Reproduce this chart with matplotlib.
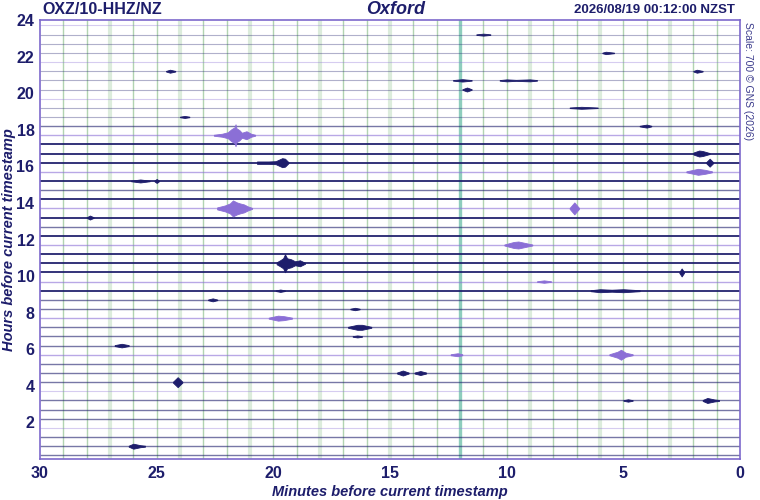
import numpy as np
import matplotlib.pyplot as plt

plt.rcParams['font.family'] = ['Liberation Sans', 'DejaVu Sans']

navy = '#1d1d6b'
purple = '#8b6fd6'
frame = '#7d68cc'

station = 'OXZ/10-HHZ/NZ'
site = 'Oxford'
stamp = '2026/08/19 00:12:00 NZST'
scale_note = 'Scale: 700 \u00a9 GNS (2026)'

# 48 half-hour lines, the bottom one ends at the current timestamp (00:12)
now_minute = 12
n_lines = 48

# background noise of each line, oldest (top) first: 1 quiet .. 3 noisy
noise = [1, 1, 1, 1, 1, 1, 1, 1, 1, 1, 1, 2,
         2, 3, 3, 3, 2, 3, 2, 3, 2, 3, 2, 3,
         2, 3, 3, 3, 2, 3, 2, 2, 2, 2, 2, 2,
         2, 2, 2, 2, 1, 2, 2, 2, 1, 2, 2, 2]

# events: line number (0 = bottom), envelope minutes and half amplitude (pixels of trace)
ev_line = [35, 27, 21, 32, 33, 32, 31, 27, 23, 20,
           15, 14, 11, 11, 9, 9, 8, 1, 6, 6,
           12, 42, 46, 41, 41, 40, 44, 42, 36, 26,
           30, 30, 18, 18, 17, 19, 38, 37, 16, 13]
ev_minutes = [
    [22.55, 22.2, 21.95, 21.8, 21.66, 21.62, 21.58, 21.45, 21.35, 21.15, 20.95, 20.78],
    [22.41, 22.07, 21.86, 21.73, 21.56, 21.43, 21.26, 21.09, 20.91],
    [19.86, 19.71, 19.58, 19.5, 19.41, 19.24, 19.07, 18.86, 18.64],
    [20.7, 20.2, 19.9, 19.62, 19.5, 19.35],
    [2.0, 1.75, 1.6, 1.3],
    [1.45, 1.3, 1.15],
    [2.3, 2.0, 1.8, 1.5, 1.2],
    [7.3, 7.1, 6.9],
    [10.1, 9.7, 9.5, 9.3, 8.9],
    [2.6, 2.5, 2.4],
    [20.2, 19.8, 19.55, 19.2],
    [16.8, 16.4, 16.2, 15.8],
    [5.6, 5.25, 5.1, 4.9, 4.6],
    [12.4, 12.1, 11.9],
    [14.7, 14.45, 14.2],
    [13.95, 13.7, 13.45],
    [24.3, 24.1, 23.9],
    [26.2, 26.0, 25.7, 25.5],
    [1.6, 1.4, 1.1, 0.9],
    [5.0, 4.8, 4.6],
    [26.8, 26.5, 26.2],
    [24.6, 24.43, 24.2],
    [11.3, 11.0, 10.7],
    [12.3, 11.9, 11.5],
    [10.3, 10.0, 9.6, 9.0, 8.7],
    [11.9, 11.7, 11.5],
    [5.9, 5.75, 5.4],
    [2.0, 1.85, 1.6],
    [4.3, 4.0, 3.8],
    [28.0, 27.86, 27.7],
    [26.1, 25.7, 25.3],
    [25.1, 25.0, 24.9],
    [6.4, 6.0, 5.5, 5.0, 4.3],
    [19.9, 19.7, 19.5],
    [22.8, 22.6, 22.4],
    [8.7, 8.4, 8.1],
    [7.3, 6.8, 6.1],
    [24.0, 23.8, 23.6],
    [16.7, 16.5, 16.3],
    [16.6, 16.4, 16.2],
]
ev_amp = [
    [0.5, 1.5, 3, 6, 8, 11, 7, 5, 2.5, 4, 1.5, 0.5],
    [1, 3, 5, 8, 6, 5, 4, 2, 0.5],
    [1, 3, 5, 9, 5, 4, 2, 3, 0.5],
    [1.2, 1.2, 1.5, 4.5, 4, 0.5],
    [1, 3, 2.5, 0.5],
    [0.5, 4, 0.5],
    [0.5, 2, 3, 2, 0.5],
    [0.5, 6, 0.5],
    [0.5, 3, 3.5, 2.5, 0.5],
    [0.5, 4, 0.5],
    [0.5, 2.5, 2, 0.5],
    [0.5, 2.5, 2.5, 0.5],
    [0.5, 3, 5, 2, 0.5],
    [0.5, 1.5, 0.5],
    [0.5, 2.5, 0.5],
    [0.5, 2, 0.5],
    [0.5, 5, 0.5],
    [0.5, 2.5, 1, 0.5],
    [0.5, 2.5, 1, 0.5],
    [0.3, 1.2, 0.3],
    [0.5, 1.8, 0.5],
    [0.3, 1.5, 0.3],
    [0.3, 1.0, 0.3],
    [0.3, 1.2, 0.3],
    [0.3, 1.0, 0.5, 1.0, 0.3],
    [0.3, 2.0, 0.3],
    [0.3, 1.2, 0.3],
    [0.3, 1.5, 0.3],
    [0.3, 1.5, 0.3],
    [0.3, 2.0, 0.3],
    [0.3, 1.5, 0.3],
    [0.3, 2.0, 0.3],
    [0.5, 1.5, 1.0, 1.5, 0.5],
    [0.3, 1.2, 0.3],
    [0.3, 1.5, 0.3],
    [0.3, 1.2, 0.3],
    [0.3, 1.0, 0.3],
    [0.3, 1.0, 0.3],
    [0.3, 1.2, 0.3],
    [0.3, 1.0, 0.3],
]

px_per_hour = 439 / 24
line_style = {1: (0.8, 0.35), 2: (1.0, 0.6), 3: (1.4, 0.9)}

fig = plt.figure(figsize=(7.6, 5.0), dpi=100)
ax = fig.add_axes([40 / 760, 41 / 500, 700 / 760, 439 / 500])
ax.set_xlim(30, 0)
ax.set_ylim(0, 24)

# minute grid, wider every 3 minutes, the hour mark highlighted
for m in range(1, 30):
    if m == now_minute:
        ax.axvline(m, color='#8ecdbd', lw=2.4, zorder=1)
    elif m % 3 == 0:
        ax.axvline(m, color='#dcecdc', lw=3, zorder=1)
    else:
        ax.axvline(m, color='#b2d4b2', lw=1, zorder=1)

base = now_minute / 60 + 0.5 * np.arange(n_lines)
colors = [purple if k % 4 == 3 else navy for k in range(n_lines)]
for k in range(n_lines):
    lw, a = line_style[noise[n_lines - 1 - k]]
    ax.hlines(base[k], 30, 0, color=colors[k], lw=lw, alpha=a, zorder=2)

for k, mins, amp in zip(ev_line, ev_minutes, ev_amp):
    half = np.array(amp) / px_per_hour
    ax.fill_between(mins, base[k] - half, base[k] + half, color=colors[k],
                    lw=0.6, edgecolor=colors[k], zorder=3)

ax.set_xticks(range(30, -1, -5))
ax.set_yticks(range(2, 25, 2))
ax.tick_params(length=0, labelsize=11.5, labelcolor=navy)
ax.tick_params(axis='x', pad=5)
ax.tick_params(axis='y', pad=4)
for lab in ax.get_xticklabels() + ax.get_yticklabels():
    lab.set_fontweight('bold')
for sp in ax.spines.values():
    sp.set_color(frame)
    sp.set_linewidth(1.2)

fig.text(390 / 760, 1 - 492 / 500, 'Minutes before current timestamp', ha='center',
         va='center', fontsize=10.5, weight='bold', style='italic', color=navy)
fig.text(9 / 760, 1 - 240 / 500, 'Hours before current timestamp', ha='center',
         va='center', rotation=90, fontsize=10.5, weight='bold', style='italic',
         color=navy)

fig.text(42 / 760, 1 - 10 / 500, station, ha='left', va='center', fontsize=11.5,
         weight='bold', color=navy)
fig.text(396 / 760, 1 - 10 / 500, site, ha='center', va='center', fontsize=13,
         weight='bold', style='italic', color=navy)
fig.text(735 / 760, 1 - 10 / 500, stamp, ha='right', va='center', fontsize=9.5,
         weight='bold', color=navy)
fig.text(748 / 760, 1 - 81 / 500, scale_note, ha='center', va='center', fontsize=7.5,
         rotation=270, color='#3c3c8c')

plt.savefig('out.png', dpi=100)
